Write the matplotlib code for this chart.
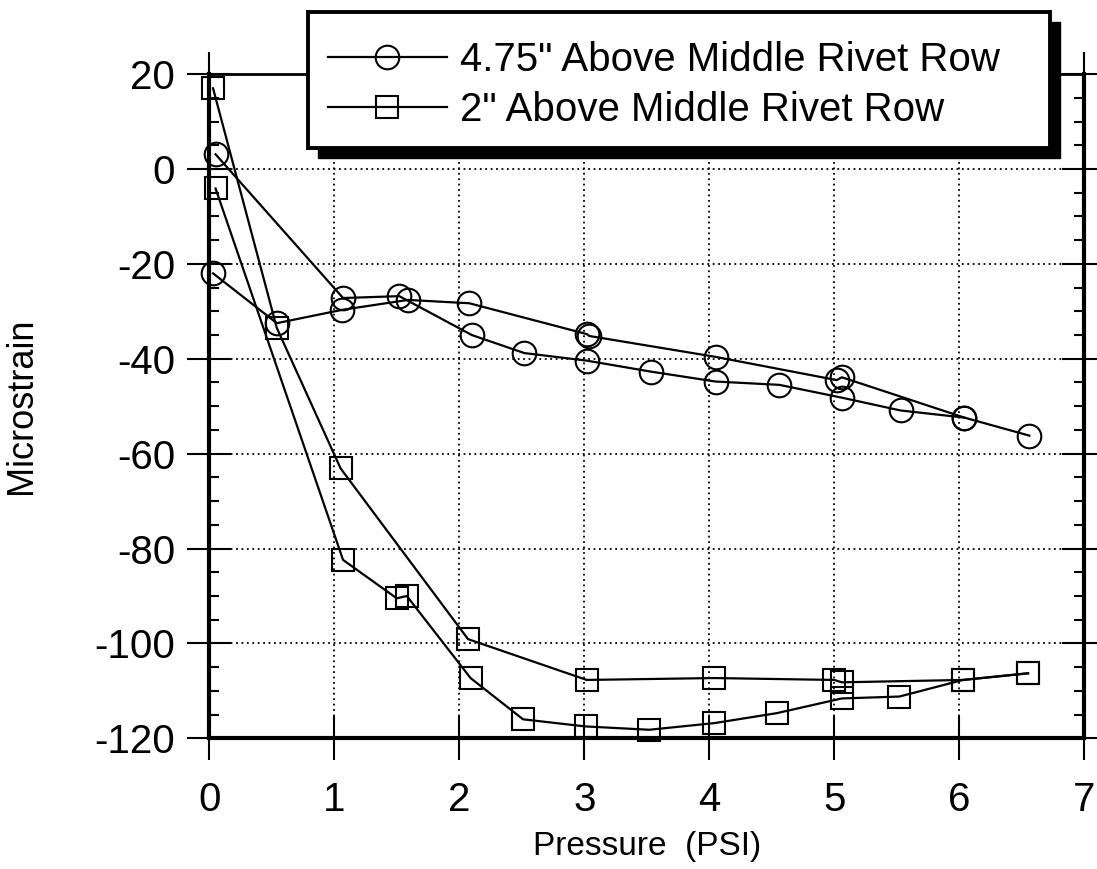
import numpy as np
import matplotlib
matplotlib.use("Agg")
import matplotlib.pyplot as plt
from matplotlib.patches import Rectangle
from matplotlib.ticker import MultipleLocator

plt.rcParams['font.family'] = ['Liberation Sans', 'DejaVu Sans']
plt.rcParams['axes.unicode_minus'] = False

# 4.75" above middle rivet row (two passes)
circ_a_x = [0.05, 1.07, 1.52, 2.10, 2.52, 3.02, 3.53, 4.05, 4.56, 5.06, 5.53, 6.04, 6.56]
circ_a_y = [3.1, -27.2, -26.8, -35.0, -38.8, -40.4, -42.7, -44.8, -45.5, -48.2, -50.9, -52.4, -56.2]
circ_b_x = [0.03, 0.54, 1.06, 1.59, 2.08, 3.02, 3.04, 4.05, 5.02, 5.06, 6.04]
circ_b_y = [-22.0, -32.5, -29.7, -27.6, -28.3, -34.8, -35.2, -39.6, -44.5, -43.9, -52.4]

# 2" above middle rivet row (two passes)
sq_a_x = [0.03, 0.54, 1.05, 2.07, 3.02, 4.04, 5.00, 5.06, 6.03, 6.55]
sq_a_y = [17.0, -33.5, -63.1, -99.1, -107.7, -107.3, -107.7, -108.2, -107.7, -106.3]
sq_b_x = [0.05, 1.07, 1.50, 1.58, 2.09, 2.51, 3.01, 3.52, 4.04, 4.54, 5.06, 5.52, 6.03, 6.55]
sq_b_y = [-4.1, -82.4, -90.5, -90.0, -107.3, -116.0, -117.5, -118.2, -116.8, -114.7, -111.6, -111.2, -107.7, -106.3]

labels = ['4.75" Above Middle Rivet Row', '2" Above Middle Rivet Row']

W, H = 1097, 869
fig = plt.figure(figsize=(W / 100, H / 100), dpi=100)
ax = fig.add_axes([209.3 / W, 1 - 738.3 / H, 875 / W, 664.2 / H])

line_kw = dict(color='black', lw=1.6, mfc='none', mec='black', mew=1.5, clip_on=False, zorder=3)
c1, = ax.plot(circ_a_x, circ_a_y, marker='o', ms=17, **line_kw)
ax.plot(circ_b_x, circ_b_y, marker='o', ms=17, **line_kw)
s1, = ax.plot(sq_a_x, sq_a_y, marker='s', ms=16, **line_kw)
ax.plot(sq_b_x, sq_b_y, marker='s', ms=16, **line_kw)

ax.set_xlim(0, 7)
ax.set_ylim(-120, 20)
ax.xaxis.set_major_locator(MultipleLocator(1))
ax.yaxis.set_major_locator(MultipleLocator(20))
ax.yaxis.set_minor_locator(MultipleLocator(5))

ax.grid(True, which='major', color='black', linestyle=(0, (1, 2)), lw=1.3)
ax.tick_params(which='major', direction='inout', length=31, width=1.5,
               top=True, right=True, labelsize=29)
ax.tick_params(axis='x', which='major', pad=15)
ax.tick_params(axis='y', which='major', pad=9)
ax.tick_params(axis='y', which='minor', direction='in', length=7, width=1.5, right=True)

for side in ['left', 'bottom', 'right']:
    ax.spines[side].set_linewidth(3)
ax.spines['top'].set_linewidth(2)

ax.set_xlabel('Pressure  (PSI)', fontsize=24)
ax.set_ylabel('Microstrain', fontsize=26)
ax.xaxis.set_label_coords(0.5, -0.14)
ax.yaxis.set_label_coords(-0.195, 0.5)

# legend box with drop shadow
fx0, fy_top = 308 / W, 1 - 12 / H
fw, fh = (1050 - 308) / W, (148 - 12) / H
fig.patches.append(Rectangle((fx0 + 10 / W, fy_top - fh - 10 / H), fw, fh,
                             transform=fig.transFigure, facecolor='black',
                             edgecolor='black', zorder=2))
fig.patches.append(Rectangle((fx0, fy_top - fh), fw, fh,
                             transform=fig.transFigure, facecolor='white',
                             edgecolor='black', lw=2.8, zorder=3))
leg = fig.legend([c1, s1], labels, loc='upper left',
                 bbox_to_anchor=(328 / W, 1 - 41 / H), bbox_transform=fig.transFigure,
                 frameon=False, fontsize=29, borderpad=0, borderaxespad=0,
                 handlelength=2.95, handletextpad=0.32, labelspacing=0.29)
leg.set_zorder(4)

fig.savefig('out.png', dpi=100)
